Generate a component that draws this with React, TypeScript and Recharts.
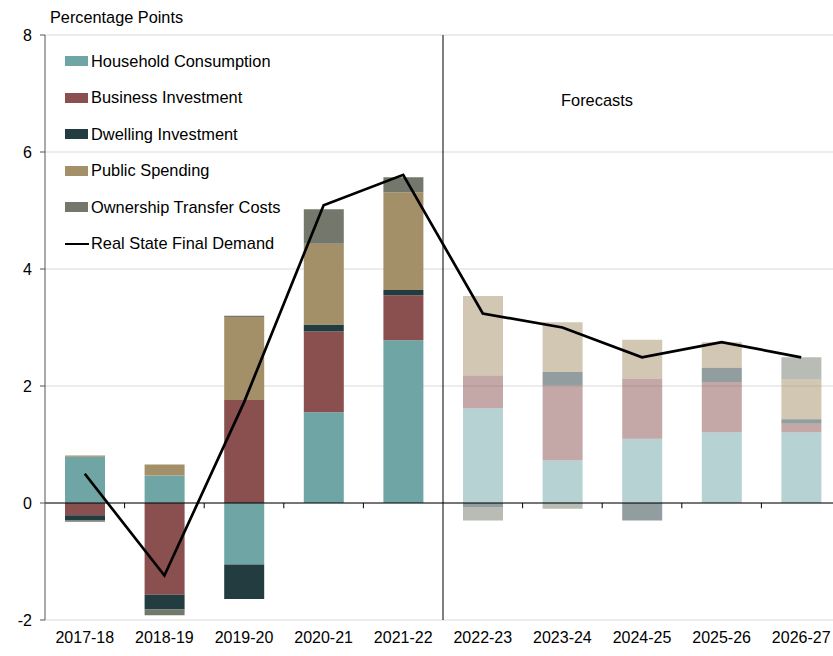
import { ComposedChart, Bar, Line, XAxis, YAxis, CartesianGrid, ReferenceLine, Cell } from 'recharts';

// 연도 구분 (앞 5개 실적, 뒤 5개 전망)
const years = ['2017-18', '2018-19', '2019-20', '2020-21', '2021-22', '2022-23', '2023-24', '2024-25', '2025-26', '2026-27'];
const forecastFrom = 5;

// 부문별 기여도 (percentage points)
const household = [0.79, 0.47, -1.05, 1.55, 2.78, 1.62, 0.73, 1.10, 1.21, 1.21];
const business = [-0.21, -1.57, 1.76, 1.38, 0.77, 0.56, 1.28, 1.02, 0.86, 0.15];
const dwelling = [-0.09, -0.25, -0.59, 0.12, 0.09, -0.07, 0.23, -0.30, 0.24, 0.07];
const publicSpending = [0.02, 0.19, 1.42, 1.38, 1.67, 1.36, 0.85, 0.67, 0.44, 0.68];
const ownership = [-0.02, -0.10, 0.02, 0.59, 0.26, -0.23, -0.10, 0, 0, 0.38];
const finalDemand = [0.50, -1.24, 1.72, 5.09, 5.61, 3.24, 3.00, 2.49, 2.75, 2.49];

const yTicks = [-2, 0, 2, 4, 6, 8];
const xTicks = years.map((_, i) => i);
const boundaries = [0.5, 1.5, 2.5, 3.5, 5.5, 6.5, 7.5, 8.5, 9.5];

const SERIES = [
    { key: 'hh', name: 'Household Consumption', color: '#6fa5a5', values: household },
    { key: 'bi', name: 'Business Investment', color: '#8a4f4f', values: business },
    { key: 'dw', name: 'Dwelling Investment', color: '#233c40', values: dwelling },
    { key: 'ps', name: 'Public Spending', color: '#a38f68', values: publicSpending },
    { key: 'ot', name: 'Ownership Transfer Costs', color: '#74786c', values: ownership },
];

const data = years.map((_, i) => {
    const row: Record<string, number> = { idx: i, line: finalDemand[i] };
    SERIES.forEach(s => { row[s.key] = s.values[i]; });
    return row;
});

const FONT = '"Liberation Sans", Arial, sans-serif';

export default function App() {
    return (
        <div style={{ position: 'fixed', left: 0, top: 0, width: 833, height: 656, overflow: 'hidden', fontFamily: FONT, background: '#fff' }}>
            <ComposedChart
                width={845}
                height={656}
                data={data}
                stackOffset="sign"
                barCategoryGap="25%"
                margin={{ top: 35, right: 4, left: 5, bottom: 6 }}
            >
                <CartesianGrid vertical={false} stroke="#d9d9d9" />
                <XAxis
                    dataKey="idx"
                    type="number"
                    domain={[-0.5, 9.5]}
                    ticks={xTicks}
                    interval={0}
                    tickFormatter={(i: number) => years[i] ?? ''}
                    axisLine={false}
                    tickLine={false}
                    height={30}
                    tick={{ fontSize: 16, fill: '#000', fontFamily: FONT }}
                    tickMargin={6}
                />
                <YAxis
                    domain={[-2, 8]}
                    ticks={yTicks}
                    width={40}
                    axisLine={{ stroke: '#555' }}
                    tickLine={{ stroke: '#555' }}
                    tickSize={5}
                    tick={{ fontSize: 16, fill: '#000', fontFamily: FONT, dx: -6 }}
                />
                {SERIES.map(s => (
                    <Bar key={s.key} dataKey={s.key} stackId="a" fill={s.color} barSize={40} isAnimationActive={false}>
                        {data.map((_, i) => (
                            <Cell key={i} fill={s.color} fillOpacity={i >= forecastFrom ? 0.5 : 1} />
                        ))}
                    </Bar>
                ))}
                <ReferenceLine y={0} stroke="#000" strokeWidth={1.2} />
                {boundaries.map(b => (
                    <ReferenceLine key={b} segment={[{ x: b, y: 0 }, { x: b, y: -0.09 }]} stroke="#000" strokeWidth={1} />
                ))}
                <ReferenceLine x={4.5} stroke="#000" strokeWidth={1} />
                <Line type="linear" dataKey="line" stroke="#000" strokeWidth={2.7} dot={false} isAnimationActive={false} />
            </ComposedChart>

            <div style={{ position: 'absolute', left: 50, top: 8, fontSize: 16.3 }}>Percentage Points</div>
            <div style={{ position: 'absolute', left: 561, top: 91, fontSize: 16.4 }}>Forecasts</div>

            {/* 범례 */}
            <div style={{ position: 'absolute', left: 65, top: 43, fontSize: 16.4 }}>
                {SERIES.map(s => (
                    <div key={s.key} style={{ display: 'flex', alignItems: 'center', height: 36.5 }}>
                        <span style={{ width: 23, height: 10, background: s.color, marginRight: 3, display: 'inline-block' }} />
                        <span>{s.name}</span>
                    </div>
                ))}
                <div style={{ display: 'flex', alignItems: 'center', height: 36.5 }}>
                    <span style={{ width: 24, height: 2.5, background: '#000', marginRight: 2, display: 'inline-block' }} />
                    <span>Real State Final Demand</span>
                </div>
            </div>
        </div>
    );
}
